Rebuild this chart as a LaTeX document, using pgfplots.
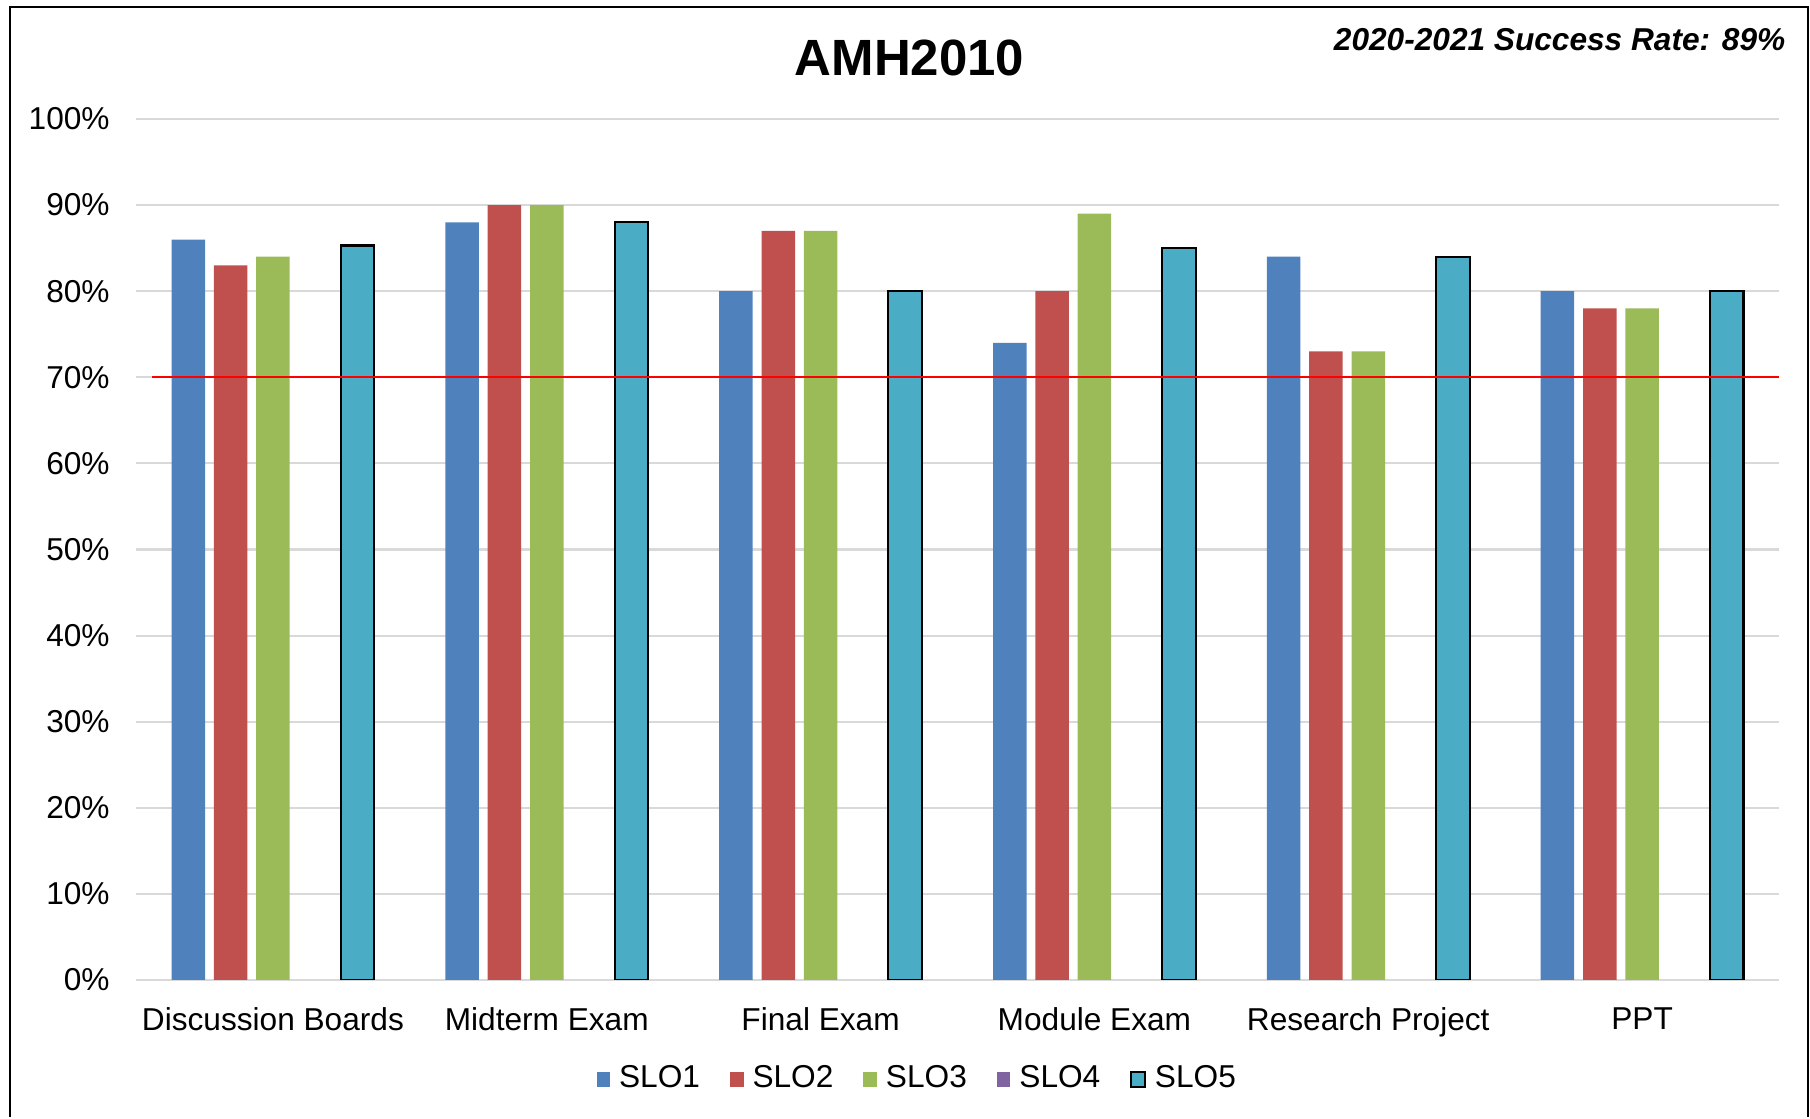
\documentclass[border=0pt]{standalone}
\usepackage{pgfplots}
\pgfplotsset{compat=1.18}
\usepackage{fontspec}
\setmainfont{Liberation Sans}

\definecolor{sloA}{HTML}{4F81BD}
\definecolor{sloB}{HTML}{C0504D}
\definecolor{sloC}{HTML}{9BBB59}
\definecolor{sloD}{HTML}{8064A2}
\definecolor{sloE}{HTML}{4BACC6}
\definecolor{gridgray}{HTML}{D9D9D9}

\begin{document}
\begin{tikzpicture}
% page: 1810 x 1117 px at 0.1 mm per px
\path (0,0) rectangle (181mm,111.7mm);
\draw[line width=0.75pt] (1.0mm,0) -- (1.0mm,111.0mm) -- (180.8mm,111.0mm) -- (180.8mm,0);

\node[anchor=base, font=\fontsize{14.5}{17}\selectfont\bfseries] at (90.95mm,104.1mm) {AMH2010};
\node[anchor=base east, inner sep=0pt, font=\fontsize{9}{11}\selectfont\bfseries\itshape]
  at (178.6mm,106.6mm) {2020-2021 Success Rate: 89\%};

\begin{axis}[
  at={(13.6mm,13.7mm)}, anchor=south west,
  width=164.3mm, height=86.1mm, scale only axis,
  xmin=-0.5, xmax=5.5, ymin=0, ymax=100,
  ybar, bar width=3.35mm,
  legend image code/.code={\path[#1] (0mm,-0.72mm) rectangle (1.35mm,0.72mm);},
  xtick={0,...,5},
  xticklabels={Discussion Boards, Midterm Exam, Final Exam, Module Exam, Research Project, PPT},
  ytick={0,10,...,100},
  yticklabels={0\%,10\%,20\%,30\%,40\%,50\%,60\%,70\%,80\%,90\%,100\%},
  major tick length=0pt,
  axis line style={draw=none},
  ymajorgrids, grid style={line width=0.6pt, gridgray},
  tick label style={font=\fontsize{9}{10.8}\selectfont},
  yticklabel style={xshift=-1.4mm},
  xticklabel style={yshift=-1.5mm},
  legend columns=5,
  legend style={at={(0.477,-0.1155)}, anchor=center, draw=none, fill=none,
    font=\fontsize{9}{10.8}\selectfont,
    /tikz/every odd column/.append style={column sep=0.2mm},
    /tikz/every even column/.append style={column sep=2.3mm}},
]
\addplot[fill=sloA, draw=none, bar shift=-8.46mm] coordinates {(0,86) (1,88) (2,80) (3,74) (4,84) (5,80)};
\addlegendentry{SLO1}
\addplot[fill=sloB, draw=none, bar shift=-4.23mm] coordinates {(0,83) (1,90) (2,87) (3,80) (4,73) (5,78)};
\addlegendentry{SLO2}
\addplot[fill=sloC, draw=none, bar shift=0mm] coordinates {(0,84) (1,90) (2,87) (3,89) (4,73) (5,78)};
\addlegendentry{SLO3}
\addlegendimage{fill=sloD, draw=none}
\addlegendentry{SLO4}
\addplot[fill=sloE, draw=black, line width=0.6pt, bar shift=8.46mm] coordinates {(0,85.3) (1,88) (2,80) (3,85) (4,84) (5,80)};
\addlegendentry{SLO5}
\draw[red, line width=0.6pt] (axis cs:-0.44,70) -- (axis cs:5.5,70);
\end{axis}
\end{tikzpicture}
\end{document}
